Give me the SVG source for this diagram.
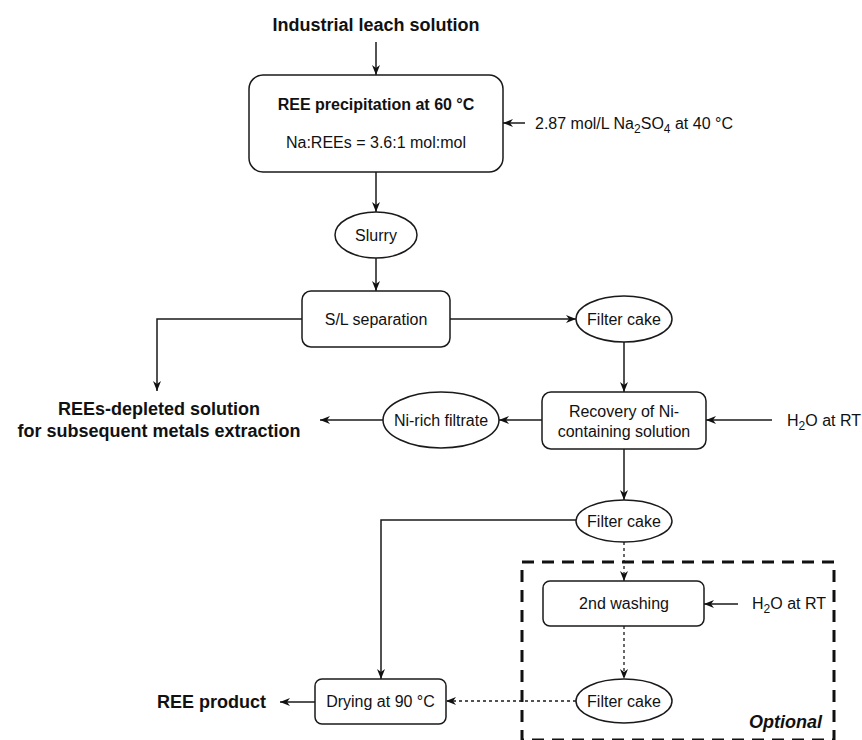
<svg xmlns="http://www.w3.org/2000/svg" width="862" height="740" viewBox="0 0 862 740">
<style>
  .box{fill:#fff;stroke:#1a1a1a;stroke-width:1.5}
  .t{font-family:"Liberation Sans",Arial,sans-serif;font-size:16px;fill:#111;text-anchor:middle}
  .tl{font-family:"Liberation Sans",Arial,sans-serif;font-size:16px;fill:#111}
  .b{font-family:"Liberation Sans",Arial,sans-serif;font-size:18px;font-weight:bold;fill:#111;text-anchor:middle}
  .c{fill:none;stroke:#1a1a1a;stroke-width:1.5}
  .d{fill:none;stroke:#1a1a1a;stroke-width:1.3;stroke-dasharray:3 3}
</style>
<defs>
  <marker id="ah" viewBox="0 0 10 10" markerWidth="10" markerHeight="10" refX="10" refY="5" orient="auto" markerUnits="userSpaceOnUse">
    <path d="M0,1 L10,5 L0,9 L3,5 z" fill="#111"/>
  </marker>
</defs>
<rect width="862" height="740" fill="#fff"/>

<g id="optional">
  <rect x="522" y="562" width="312" height="178" fill="none" stroke="#111" stroke-width="3" stroke-dasharray="12 8"/>
  <text x="822" y="728" class="tl" style="font-size:18px;font-weight:bold;font-style:italic;text-anchor:end">Optional</text>
</g>

<g id="connectors">
  <path class="c" d="M376,42 V75" marker-end="url(#ah)"/>
  <path class="c" d="M525,123 H503" marker-end="url(#ah)"/>
  <path class="c" d="M376,172 V212" marker-end="url(#ah)"/>
  <path class="c" d="M376,258 V291" marker-end="url(#ah)"/>
  <path class="c" d="M450,319 H576" marker-end="url(#ah)"/>
  <path class="c" d="M302,319 H157 V391" marker-end="url(#ah)"/>
  <path class="c" d="M624,342 V392" marker-end="url(#ah)"/>
  <path class="c" d="M542,420 H499" marker-end="url(#ah)"/>
  <path class="c" d="M383,420 H320" marker-end="url(#ah)"/>
  <path class="c" d="M772,420 H706" marker-end="url(#ah)"/>
  <path class="c" d="M624,449 V500" marker-end="url(#ah)"/>
  <path class="c" d="M576,520 H381 V679" marker-end="url(#ah)"/>
  <path class="d" d="M624,542 V581" marker-end="url(#ah)"/>
  <path class="c" d="M738,604 H704" marker-end="url(#ah)"/>
  <path class="d" d="M624,626 V679" marker-end="url(#ah)"/>
  <path class="d" d="M576,701 H446" marker-end="url(#ah)"/>
  <path class="c" d="M315,702 H280" marker-end="url(#ah)"/>
</g>

<g id="title"><text x="376" y="31" class="b">Industrial leach solution</text></g>

<g id="precipitation">
  <rect class="box" x="249" y="75" width="254" height="97" rx="14"/>
  <text x="376" y="110" class="t" font-weight="bold">REE precipitation at 60 °C</text>
  <text x="376" y="148" class="t">Na:REEs = 3.6:1 mol:mol</text>
</g>

<g id="na2so4"><text x="535" y="129" class="tl">2.87 mol/L Na<tspan dy="4" font-size="12">2</tspan><tspan dy="-4">SO</tspan><tspan dy="4" font-size="12">4</tspan><tspan dy="-4"> at 40 °C</tspan></text></g>

<g id="slurry">
  <ellipse class="box" cx="376" cy="235" rx="41" ry="23"/>
  <text x="376" y="241" class="t">Slurry</text>
</g>

<g id="sl-separation">
  <rect class="box" x="302" y="291" width="148" height="56" rx="9"/>
  <text x="376" y="325" class="t">S/L separation</text>
</g>

<g id="filter-cake-1">
  <ellipse class="box" cx="624" cy="319" rx="48" ry="23"/>
  <text x="624" y="325" class="t">Filter cake</text>
</g>

<g id="depleted">
  <text x="159" y="415" class="b">REEs-depleted solution</text>
  <text x="159" y="437" class="b">for subsequent metals extraction</text>
</g>

<g id="ni-rich">
  <ellipse class="box" cx="441" cy="420" rx="58" ry="28"/>
  <text x="441" y="426" class="t">Ni-rich filtrate</text>
</g>

<g id="recovery">
  <rect class="box" x="542" y="392" width="164" height="57" rx="9"/>
  <text x="624" y="417" class="t">Recovery of Ni-</text>
  <text x="624" y="437" class="t">containing solution</text>
</g>

<g id="h2o-1"><text x="787" y="426" class="tl">H<tspan dy="4" font-size="12">2</tspan><tspan dy="-4">O at RT</tspan></text></g>

<g id="filter-cake-2">
  <ellipse class="box" cx="624" cy="521" rx="48" ry="21"/>
  <text x="624" y="527" class="t">Filter cake</text>
</g>

<g id="washing">
  <rect class="box" x="543" y="581" width="161" height="45" rx="7"/>
  <text x="624" y="609" class="t">2nd washing</text>
</g>

<g id="h2o-2"><text x="752" y="609" class="tl">H<tspan dy="4" font-size="12">2</tspan><tspan dy="-4">O at RT</tspan></text></g>

<g id="filter-cake-3">
  <ellipse class="box" cx="624" cy="701" rx="48" ry="22"/>
  <text x="624" y="707" class="t">Filter cake</text>
</g>

<g id="drying">
  <rect class="box" x="315" y="679" width="131" height="45" rx="7"/>
  <text x="380.5" y="707" class="t">Drying at 90 °C</text>
</g>

<g id="product"><text x="266" y="708" class="b" style="text-anchor:end">REE product</text></g>
</svg>
